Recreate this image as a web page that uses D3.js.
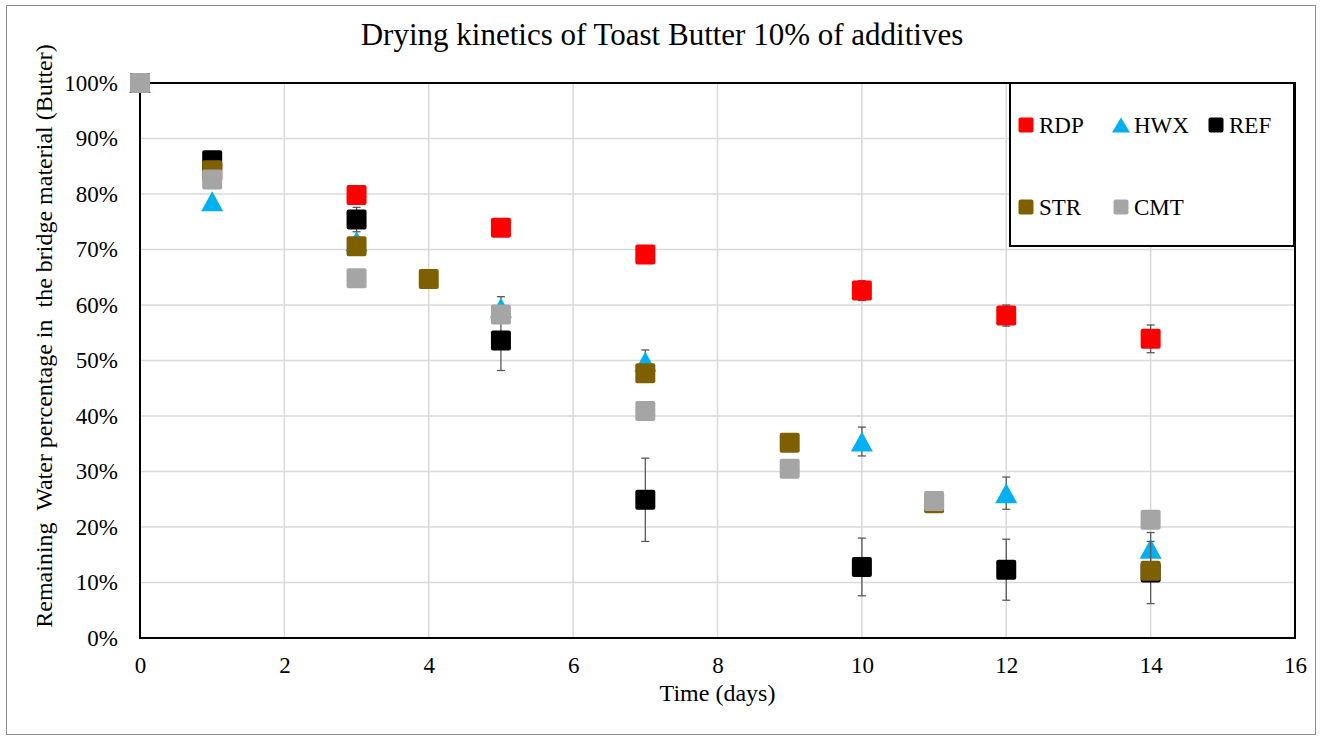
<!DOCTYPE html>
<html>
<head>
<meta charset="utf-8">
<script src="https://cdn.jsdelivr.net/npm/d3@7/dist/d3.min.js"></script>
<style>
  html, body { margin: 0; padding: 0; background: #fff; }
  svg { display: block; font-family: "Liberation Serif", "Times New Roman", serif; }
</style>
</head>
<body>
<svg id="chart" width="1322" height="740"></svg>
<script>
// Remaining water (%) over drying time (days) for each additive
const rdpDays = [0, 1, 3, 5, 7, 10, 12, 14];
const rdpValues = [100, 84, 79.8, 73.9, 69.1, 62.6, 58.1, 53.9];
const rdpErrors = [0, 0, 0, 0, 0, 1.8, 1.9, 2.5];

const hwxDays = [0, 1, 3, 5, 7, 10, 12, 14];
const hwxValues = [100, 78.7, 71.5, 59.5, 49.8, 35.4, 26.1, 16.1];
const hwxErrors = [0, 0, 0, 2.0, 2.1, 2.6, 2.9, 2.9];

const refDays = [0, 1, 3, 5, 7, 10, 12, 14];
const refValues = [100, 86.1, 75.4, 53.6, 24.9, 12.8, 12.3, 11.8];
const refErrors = [0, 0, 2.2, 5.4, 7.5, 5.2, 5.5, 5.6];

const strDays = [0, 1, 3, 4, 7, 9, 11, 14];
const strValues = [100, 84.3, 70.6, 64.7, 47.7, 35.2, 24.3, 12.1];

const cmtDays = [0, 1, 3, 5, 7, 9, 11, 14];
const cmtValues = [100, 82.6, 64.8, 58.3, 40.9, 30.5, 24.7, 21.3];

const xTicks = [0, 2, 4, 6, 8, 10, 12, 14, 16];
const yTicks = [0, 0.1, 0.2, 0.3, 0.4, 0.5, 0.6, 0.7, 0.8, 0.9, 1.0];

const seriesNames = ["RDP", "HWX", "REF", "STR", "CMT"];
const seriesColors = ["#ff0000", "#00b0f0", "#000000", "#7f6000", "#a5a5a5"];
const seriesShapes = ["square", "triangle", "square", "square", "square"];

const series = [
  { days: rdpDays, values: rdpValues, errors: rdpErrors },
  { days: hwxDays, values: hwxValues, errors: hwxErrors },
  { days: refDays, values: refValues, errors: refErrors },
  { days: strDays, values: strValues, errors: null },
  { days: cmtDays, values: cmtValues, errors: null }
].map((s, i) => ({
  name: seriesNames[i], color: seriesColors[i], shape: seriesShapes[i],
  points: s.days.map((d, j) => ({ day: d, value: s.values[j] / 100, err: s.errors ? s.errors[j] / 100 : 0 }))
}));

const svg = d3.select("#chart");
const W = 1322, H = 740;
const plot = { left: 140, right: 1295, top: 83, bottom: 638 };
const serif = "'Liberation Serif', 'Times New Roman', serif";

const x = d3.scaleLinear().domain([0, 16]).range([plot.left, plot.right]);
const y = d3.scaleLinear().domain([0, 1]).range([plot.bottom, plot.top]);

// outer frame
svg.append("rect").attr("x", 6.5).attr("y", 5.5).attr("width", W - 13).attr("height", H - 11)
  .attr("fill", "#fff").attr("stroke", "#8c8c8c").attr("stroke-width", 1);

// title
svg.append("text").attr("x", 662).attr("y", 45).attr("text-anchor", "middle")
  .attr("font-family", serif).attr("font-size", 31).attr("fill", "#000")
  .text("Drying kinetics of Toast Butter 10% of additives");

// gridlines
svg.append("g").selectAll("line").data(yTicks.filter(t => t > 0 && t < 1)).join("line")
  .attr("x1", plot.left).attr("x2", plot.right)
  .attr("y1", d => y(d)).attr("y2", d => y(d))
  .attr("stroke", "#d9d9d9").attr("stroke-width", 1.5);
svg.append("g").selectAll("line").data(xTicks.filter(t => t > 0 && t < 16)).join("line")
  .attr("x1", d => x(d)).attr("x2", d => x(d))
  .attr("y1", plot.top).attr("y2", plot.bottom)
  .attr("stroke", "#d9d9d9").attr("stroke-width", 1.5);

// axes
const yAxis = svg.append("g").attr("transform", `translate(${plot.left},0)`)
  .call(d3.axisLeft(y).tickValues(yTicks).tickFormat(d3.format(".0%")).tickSize(0).tickPadding(22));
const xAxis = svg.append("g").attr("transform", `translate(0,${plot.bottom})`)
  .call(d3.axisBottom(x).tickValues(xTicks).tickFormat(d3.format("d")).tickSize(0).tickPadding(19));
[yAxis, xAxis].forEach(a => {
  a.attr("font-family", serif);
  a.select(".domain").remove();
  a.selectAll("text").attr("font-size", 23).attr("fill", "#000").attr("font-family", serif);
});

// plot area border
svg.append("rect").attr("x", plot.left).attr("y", plot.top)
  .attr("width", plot.right - plot.left).attr("height", plot.bottom - plot.top)
  .attr("fill", "none").attr("stroke", "#000").attr("stroke-width", 2);

// axis titles
svg.append("text").attr("x", (plot.left + plot.right) / 2).attr("y", 701)
  .attr("text-anchor", "middle").attr("font-family", serif).attr("font-size", 24).text("Time (days)");
svg.append("text").attr("transform", "translate(52,336) rotate(-90)")
  .attr("text-anchor", "middle").attr("font-family", serif).attr("font-size", 24)
  .attr("xml:space", "preserve")
  .text("Remaining  Water percentage in  the bridge material (Butter)");

// marker shapes
const SQ = 20, TW = 22, TH = 20;
function drawMarker(g, shape, color, cx, cy, size) {
  if (shape === "triangle") {
    const w = size.tw, h = size.th;
    g.append("path")
      .attr("d", `M${cx},${cy - h / 2} L${cx + w / 2},${cy + h / 2} L${cx - w / 2},${cy + h / 2} Z`)
      .attr("fill", color);
  } else {
    g.append("rect").attr("x", cx - size.sq / 2).attr("y", cy - size.sq / 2)
      .attr("width", size.sq).attr("height", size.sq).attr("rx", 2).attr("fill", color);
  }
}

// series: error bars then markers, in drawing order
const marks = svg.append("g");
series.forEach(s => {
  const g = marks.append("g");
  s.points.filter(p => p.err > 0).forEach(p => {
    const cx = x(p.day), y1 = y(p.value - p.err), y2 = y(p.value + p.err);
    g.append("line").attr("x1", cx).attr("x2", cx).attr("y1", y1).attr("y2", y2)
      .attr("stroke", "#595959").attr("stroke-width", 1.3);
    [y1, y2].forEach(yy => g.append("line").attr("x1", cx - 4).attr("x2", cx + 4)
      .attr("y1", yy).attr("y2", yy).attr("stroke", "#595959").attr("stroke-width", 1.3));
  });
  s.points.forEach(p => drawMarker(g, s.shape, s.color, x(p.day), y(p.value), { sq: SQ, tw: TW, th: TH }));
});

// legend
const legend = svg.append("g");
legend.append("rect").attr("x", 1010).attr("y", 83).attr("width", 284).attr("height", 163)
  .attr("fill", "#fff").attr("stroke", "#000").attr("stroke-width", 2);
const legendPos = [[1018, 125], [1113, 125], [1208, 125], [1018, 207], [1113, 207]];
series.forEach((s, i) => {
  const [lx, ly] = legendPos[i];
  drawMarker(legend, s.shape, s.color, lx + 8, ly, { sq: 15, tw: 18, th: 15 });
  legend.append("text").attr("x", lx + 21).attr("y", ly + 8)
    .attr("font-family", serif).attr("font-size", 23).text(s.name);
});
</script>
</body>
</html>
